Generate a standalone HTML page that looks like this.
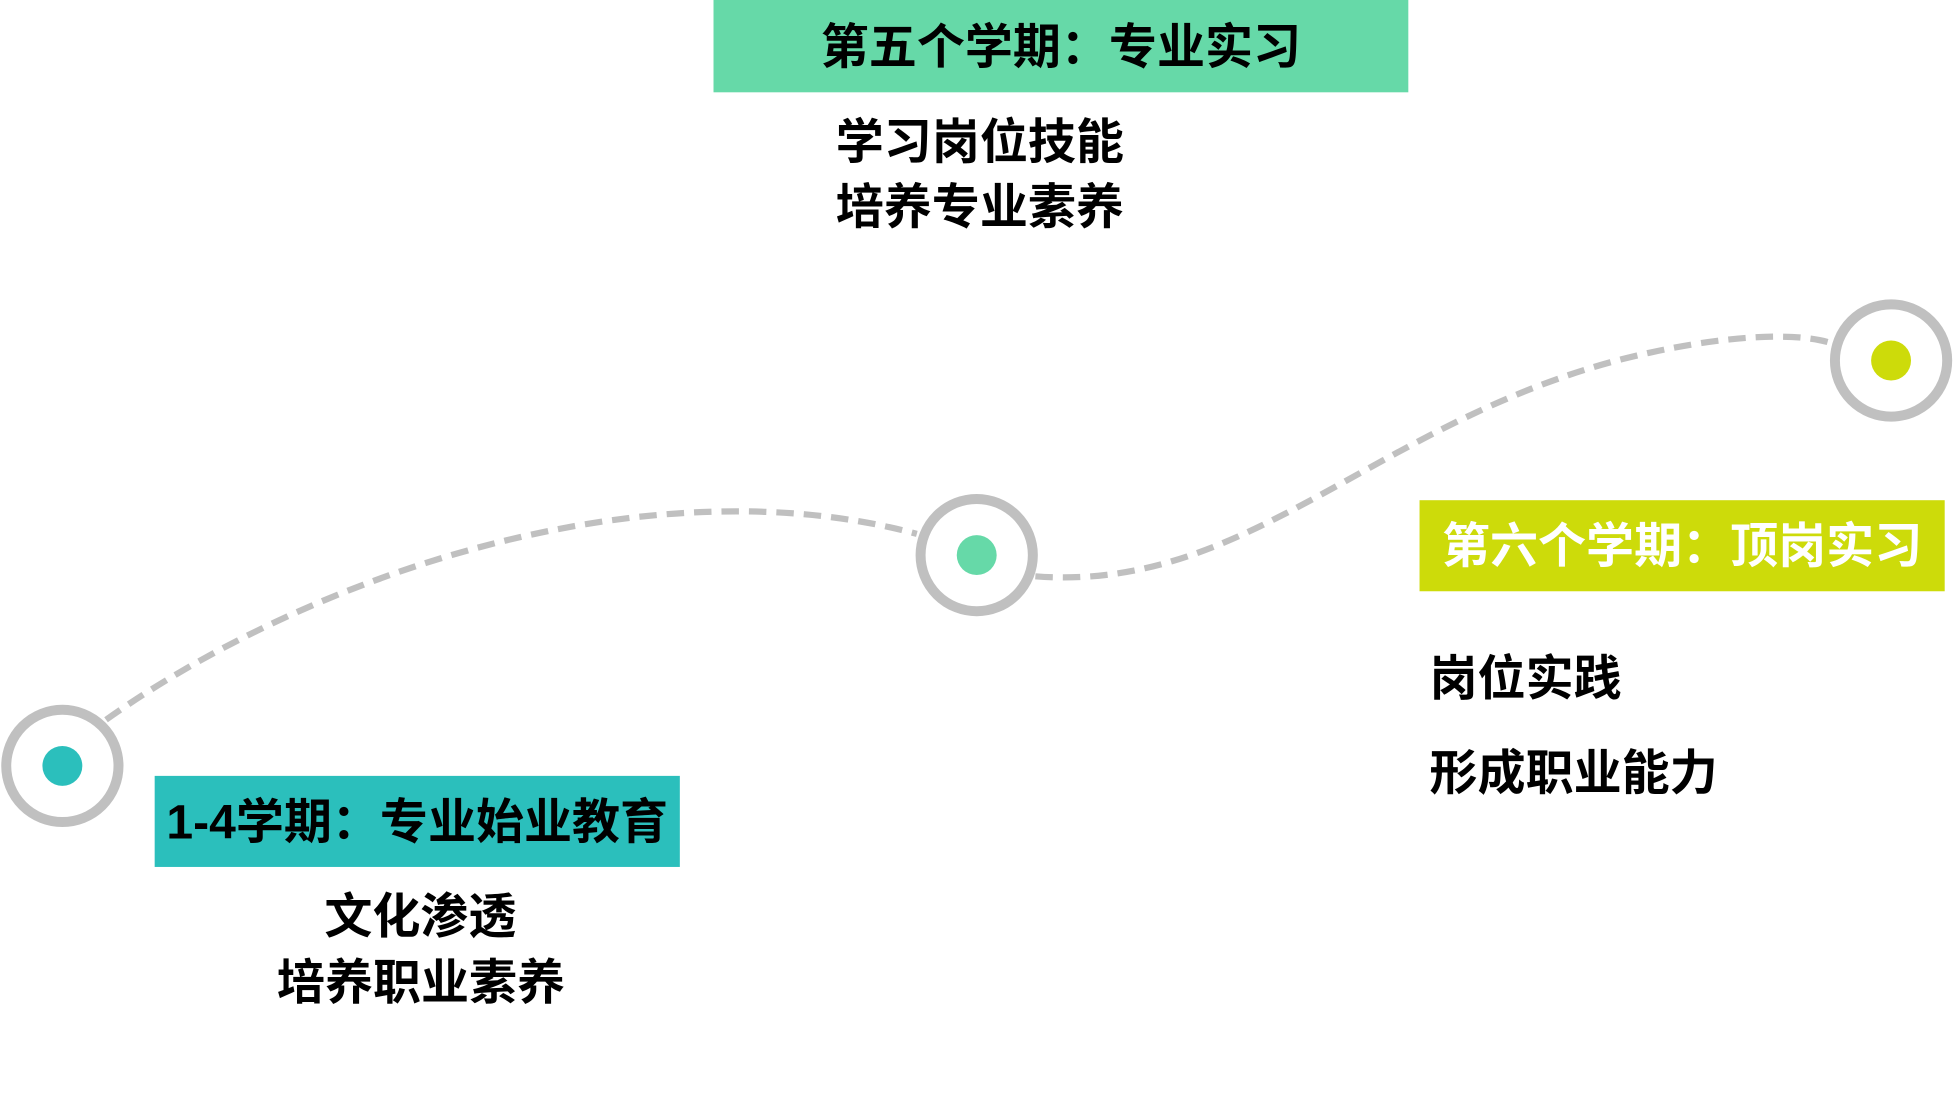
<!DOCTYPE html>
<html><head><meta charset="utf-8"><style>
html,body{margin:0;padding:0;background:#fff;overflow:hidden}
#wrap{width:1568px;height:880px;position:relative;transform:scale(1.2474);transform-origin:0 0;font-family:"Liberation Sans","Noto Sans CJK SC",sans-serif;font-weight:bold;}
.box{position:absolute;display:flex;align-items:center;font-size:38.5px;white-space:nowrap;padding-bottom:5px;box-sizing:border-box}
.t{position:absolute;font-size:38.5px;white-space:nowrap;line-height:1;color:#000}
</style></head><body><div id="wrap">
<svg width="1568" height="880" style="position:absolute;left:0;top:0">
<path d="M85,577 C250,460 520,370 735,428" fill="none" stroke="#c0c0c0" stroke-width="5" stroke-dasharray="14 8"/>
<path d="M830,462 C1000,475 1100,340 1300,288 C1380,268 1440,266 1468,275" fill="none" stroke="#c0c0c0" stroke-width="5" stroke-dasharray="14 8"/>
<circle cx="50" cy="614" r="45" fill="#fff" stroke="#c0c0c0" stroke-width="8"/>
<circle cx="50" cy="614" r="16" fill="#2bbfbc"/>
<circle cx="783" cy="445" r="45" fill="#fff" stroke="#c0c0c0" stroke-width="8"/>
<circle cx="783" cy="445" r="16" fill="#66d9a8"/>
<circle cx="1516" cy="289" r="45" fill="#fff" stroke="#c0c0c0" stroke-width="8"/>
<circle cx="1516" cy="289" r="16" fill="#cddb0a"/>
</svg>
<div class="box" style="left:572px;top:0;width:557px;height:74px;background:#66d9a8;justify-content:center;color:#000">第五个学期：专业实习</div>
<div class="t" style="left:670px;top:96px">学习岗位技能</div>
<div class="t" style="left:670px;top:148px">培养专业素养</div>
<div class="box" style="left:124px;top:622px;width:421px;height:73px;background:#2bbfbc;justify-content:center;color:#000">1-4学期：专业始业教育</div>
<div class="t" style="left:260px;top:717px">文化渗透</div>
<div class="t" style="left:222px;top:770px">培养职业素养</div>
<div class="box" style="left:1138px;top:401px;width:421px;height:73px;background:#cddb0a;justify-content:center;color:#fff">第六个学期：顶岗实习</div>
<div class="t" style="left:1146px;top:526px">岗位实践</div>
<div class="t" style="left:1146px;top:602px">形成职业能力</div>
</div></body></html>
